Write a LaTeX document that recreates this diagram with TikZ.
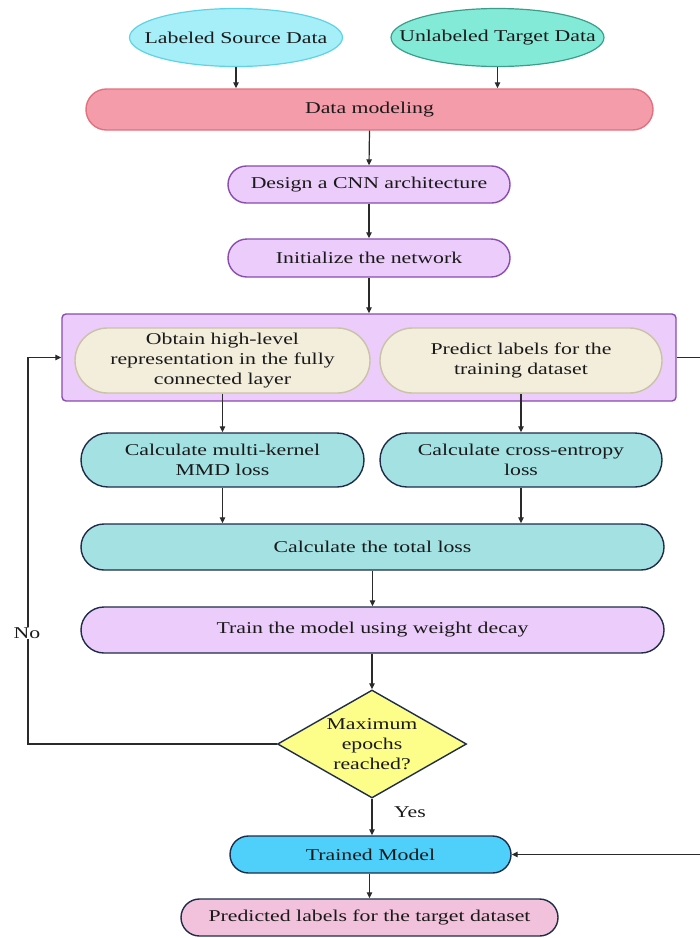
\documentclass[tikz,border=0pt]{standalone}
\usepackage{fontspec}
\setmainfont{Liberation Serif}[FakeStretch=1.32]
\usetikzlibrary{shapes.geometric,arrows.meta}
\definecolor{srcfill}{HTML}{A6EEF8}
\definecolor{srcdraw}{HTML}{5FD3E6}
\definecolor{tgtfill}{HTML}{84EAD8}
\definecolor{tgtdraw}{HTML}{3A9E8A}
\definecolor{dmfill}{HTML}{F49CAA}
\definecolor{dmdraw}{HTML}{E2707E}
\definecolor{lavfill}{HTML}{EBCCFA}
\definecolor{lavdraw}{HTML}{8A4CB0}
\definecolor{beigefill}{HTML}{F3EDDB}
\definecolor{beigedraw}{HTML}{C9C3A6}
\definecolor{tealfill}{HTML}{A3E1E2}
\definecolor{navy}{HTML}{1F2D4A}
\definecolor{yellowfill}{HTML}{FDFD8A}
\definecolor{trainedfill}{HTML}{4ED0FA}
\definecolor{predfill}{HTML}{F2C2DC}
\definecolor{linecol}{HTML}{2A2A2A}
\definecolor{txt}{HTML}{1A1A1A}
\tikzset{
  every node/.style={font=\fontsize{16.5}{20}\selectfont, text=txt},
  ell/.style={ellipse, line width=1.2pt, inner sep=0pt},
  pill/.style={rectangle, line width=1.4pt, inner sep=0pt, align=center},
  arr/.style={draw=linecol, line width=1.2pt, -{Triangle[length=6pt,width=5.5pt]}},
  lbl/.style={inner sep=1pt}
}
\begin{document}
\begin{tikzpicture}[x=1pt,y=1pt]
\clip (0,0) rectangle (700,-938);
\fill[white] (0,0) rectangle (700,-938);

\node[ell, fill=srcfill, draw=srcdraw, minimum width=213, minimum height=58] (src) at (236,-37.5) {\makebox[0pt][c]{Labeled Source Data}};
\node[ell, fill=tgtfill, draw=tgtdraw, minimum width=213, minimum height=58] (tgt) at (497.5,-37.5) {\makebox[0pt][c]{Unlabeled Target Data}};

\node[pill, fill=dmfill, draw=dmdraw, minimum width=567, minimum height=41, rounded corners=20.5] (dm) at (369.5,-109.5) {Data modeling};
\node[pill, fill=lavfill, draw=lavdraw, minimum width=282, minimum height=37, rounded corners=18.5] (design) at (369,-184.5) {Design a CNN architecture};
\node[pill, fill=lavfill, draw=lavdraw, minimum width=282, minimum height=38, rounded corners=19] (init) at (369,-258) {Initialize the network};

\node[rectangle, fill=lavfill, draw=lavdraw, line width=1.4pt, rounded corners=4, minimum width=614, minimum height=87, inner sep=0pt] (bigbox) at (369,-357.5) {};
\node[pill, fill=beigefill, draw=beigedraw, minimum width=295, minimum height=65, rounded corners=32.5] (p1) at (222.5,-360.5) {Obtain high-level\\representation in the fully\\connected layer};
\node[pill, fill=beigefill, draw=beigedraw, minimum width=282, minimum height=65, rounded corners=32.5] (p2) at (521,-360.5) {Predict labels for the\\training dataset};

\node[pill, fill=tealfill, draw=navy, minimum width=283, minimum height=54, rounded corners=27] (mmd) at (222.5,-460) {Calculate multi-kernel\\MMD loss};
\node[pill, fill=tealfill, draw=navy, minimum width=282, minimum height=54, rounded corners=27] (ce) at (521,-460) {Calculate cross-entropy\\loss};
\node[pill, fill=tealfill, draw=navy, minimum width=583, minimum height=46, rounded corners=23] (total) at (372.5,-547) {Calculate the total loss};
\node[pill, fill=lavfill, draw=navy, minimum width=583, minimum height=46, rounded corners=23] (train) at (372.5,-630) {Train the model using weight decay};

\node[diamond, fill=yellowfill, draw=navy, line width=1.4pt, minimum width=189, minimum height=108, inner sep=0pt] (dec) at (372,-744) {};
\node[align=center, inner sep=0pt] (dectext) at (dec) {Maximum\\epochs\\reached?};

\node[pill, fill=trainedfill, draw=navy, minimum width=281, minimum height=37, rounded corners=18.5] (trained) at (370.5,-854.5) {Trained Model};
\node[pill, fill=predfill, draw=navy, minimum width=377, minimum height=37, rounded corners=18.5] (pred) at (369.5,-917.5) {Predicted labels for the target dataset};

% connectors
\draw[arr] (src.south) -- (src.south |- dm.north);
\draw[arr] (tgt.south) -- (tgt.south |- dm.north);
\draw[arr] (dm.south) -- (design.north);
\draw[arr] (design.south) -- (init.north);
\draw[arr] (init.south) -- (init.south |- bigbox.north);
\draw[arr] (p1.south) -- (p1.south |- mmd.north);
\draw[arr] (p2.south) -- (p2.south |- ce.north);
\draw[arr] (mmd.south) -- (mmd.south |- total.north);
\draw[arr] (ce.south) -- (ce.south |- total.north);
\draw[arr] (total.south -| train.north) -- (train.north);
\draw[arr] (train.south -| dec.north) -- (dec.north);
\draw[arr] (dec.south) -- (dec.south |- trained.north);
\draw[arr] (trained.south -| pred.north) -- (pred.north);

\coordinate (nocorner) at (28,-357.5);
\draw[arr] (dec.west) -| (nocorner) -- (bigbox.west);
\node[lbl, fill=white] (nolbl) at (27,-633) {No};
\node[lbl] (yeslbl) at (410,-812) {Yes};

\coordinate (rcorner) at (704,-357.5);
\draw[arr] (bigbox.east) -- (rcorner) |- (trained.east);
\end{tikzpicture}
\end{document}
